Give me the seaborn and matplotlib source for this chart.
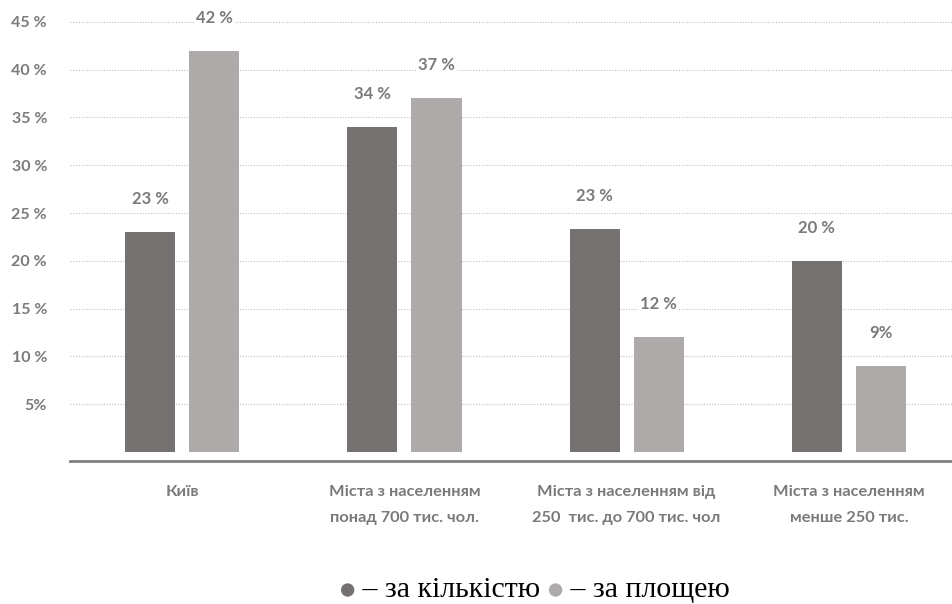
import matplotlib
matplotlib.use("Agg")
import matplotlib.pyplot as plt
import seaborn as sns
import pandas as pd
from matplotlib.patches import Circle
from matplotlib.offsetbox import TextArea, HPacker, AnchoredOffsetbox, DrawingArea

# Categories (two-line labels) and the two series
categories = [
    "Київ",
    "Міста з населенням\nпонад 700 тис. чол.",
    "Міста з населенням від\n250  тис. до 700 тис. чол",
    "Міста з населенням\nменше 250 тис.",
]
by_count = [23, 34, 23.3, 20]
by_area = [42, 37, 12, 9]
count_labels = ["23 %", "34 %", "23 %", "20 %"]
area_labels = ["42 %", "37 %", "12 %", "9%"]
series_names = ["за кількістю", "за площею"]

y_ticks = [5, 10, 15, 20, 25, 30, 35, 40, 45]
y_tick_labels = ["5%", "10 %", "15 %", "20 %", "25 %", "30 %", "35 %", "40 %", "45 %"]

DARK = "#767171"
LIGHT = "#AEAAAA"
TEXT = "#7A7A7A"

df = pd.DataFrame({
    "category": categories * 2,
    "value": by_count + by_area,
    "series": [series_names[0]] * len(categories) + [series_names[1]] * len(categories),
})

sns.set_style("white")
plt.rcParams["font.family"] = ["Lato", "Open Sans", "DejaVu Sans"]

fig = plt.figure(figsize=(9.52, 6.04), dpi=100)
ax = fig.add_axes([70 / 952, 1 - 461 / 604, 1 - 70 / 952, 456 / 604])

sns.barplot(
    data=df, x="category", y="value", hue="series",
    palette=[DARK, LIGHT], width=0.577, gap=0.219,
    legend=False, ax=ax, saturation=1, edgecolor="none",
)

ax.set_xlim(-0.505, 3.464)
ax.set_ylim(-0.93, 46.76)

# dotted horizontal gridlines at each tick
for y in y_ticks:
    ax.axhline(y, color="#BFBFBF", lw=0.8, ls=(0, (1, 1.5)), zorder=0)

ax.set_yticks(y_ticks)
ax.set_yticklabels(y_tick_labels)
ax.tick_params(axis="y", length=0, pad=16.5, labelsize=11.5, labelcolor=TEXT)
for t in ax.get_yticklabels():
    t.set_fontweight("bold")

ax.tick_params(axis="x", length=0, pad=17, labelsize=11.8, labelcolor=TEXT)
for t in ax.get_xticklabels():
    t.set_fontweight("bold")
    t.set_linespacing(2.1)

ax.set_xlabel("")
ax.set_ylabel("")
for side in ["top", "right", "left"]:
    ax.spines[side].set_visible(False)
ax.spines["bottom"].set_color("#808080")
ax.spines["bottom"].set_linewidth(2.0)

# value labels above each bar, with a white box over the grid
for cont, labels in zip(ax.containers, [count_labels, area_labels]):
    ax.bar_label(
        cont, labels=labels, padding=18, fontsize=12, fontweight="bold",
        color=TEXT, bbox=dict(facecolor="white", edgecolor="none", pad=1.5),
    )


def dot(color):
    # small filled circle used as a colour key in the caption line
    da = DrawingArea(11, 11, 0, 0)
    da.add_artist(Circle((5.5, 5.5), 4.8, facecolor=color, edgecolor="none"))
    return da


# legend line below the chart
serif = ["Liberation Serif", "DejaVu Sans"]
parts = [
    dot(DARK),
    TextArea(" – " + series_names[0] + " ", textprops=dict(color="black", fontsize=21.5, family=serif)),
    dot(LIGHT),
    TextArea(" – " + series_names[1], textprops=dict(color="black", fontsize=21.5, family=serif)),
]
box = HPacker(children=parts, align="center", pad=0, sep=0)
anchored = AnchoredOffsetbox(
    loc="center", child=box, frameon=False,
    bbox_to_anchor=(535 / 952, 1 - 590 / 604), bbox_transform=fig.transFigure,
)
fig.add_artist(anchored)

fig.savefig("out.png", dpi=100)
